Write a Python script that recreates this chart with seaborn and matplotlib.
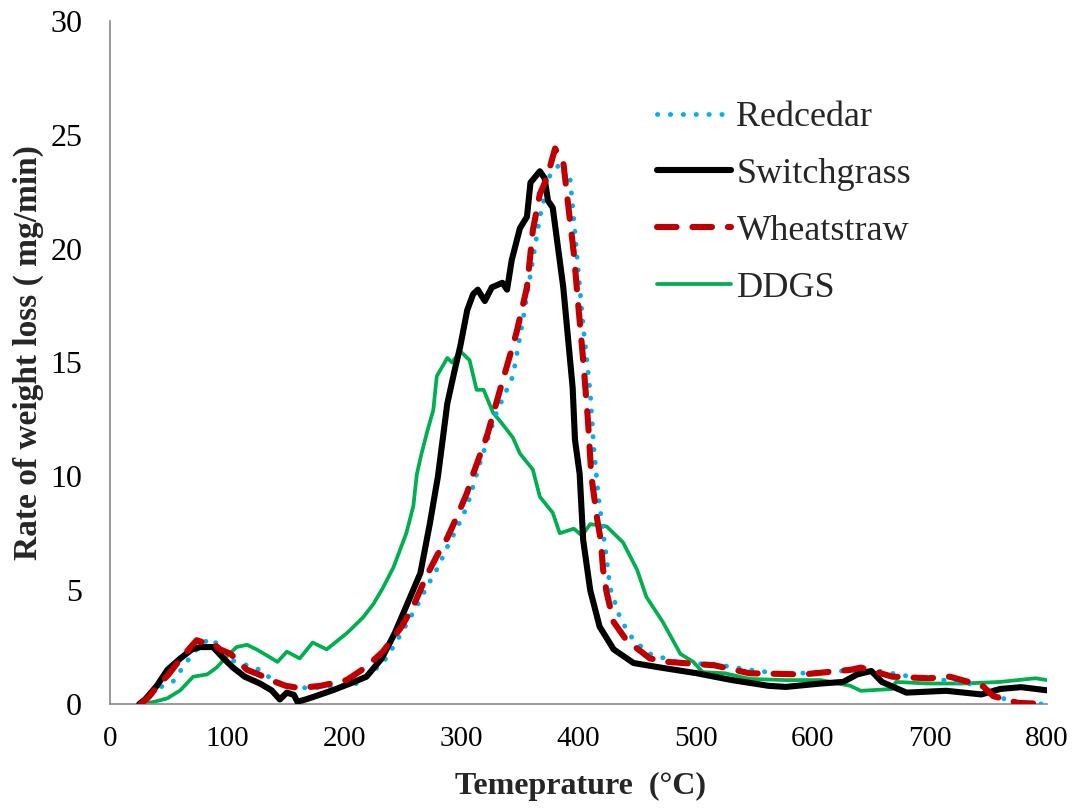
import matplotlib
matplotlib.use("Agg")
import matplotlib.pyplot as plt
import seaborn as sns
import numpy as np

# ---------------- data ----------------
redcedar_t = [28, 35, 45, 54, 62, 72, 85, 95, 105, 117, 128, 139, 151, 168, 188, 211, 233, 243, 252, 262,
              270, 280, 288, 297, 305, 316, 323, 330, 344, 353, 361, 367, 376, 386, 393, 396, 399, 404, 410,
              413, 417, 423, 427, 436, 447, 461, 487, 516, 546, 577, 616, 656, 684, 726, 754, 766, 775, 800]
redcedar_y = [0.0, 0.4, 0.8, 1.0, 1.6, 2.3, 2.9, 2.5, 1.9, 1.7, 1.5, 1.05, 0.8, 0.7, 0.75, 0.9, 1.8, 2.6, 3.4, 4.3,
              5.1, 6.0, 6.9, 7.8, 8.7, 10.6, 11.7, 12.8, 14.4, 17.0, 19.5, 21.4, 23.3, 23.8, 23.0, 21.3, 19.5, 16.6, 13.7,
              11.3, 9.1, 6.8, 5.1, 3.7, 2.8, 2.2, 1.8, 1.75, 1.5, 1.3, 1.45, 1.45, 1.2, 0.97, 0.66, 0.1, 0.0, 0.0]

switchgrass_t = [25, 30, 40, 49, 60, 70, 77, 88, 97, 105, 115, 128, 138, 145, 151, 157, 160, 167, 173, 190,
                 205, 219, 232, 243, 253, 265, 273, 280, 284, 288, 294, 299, 305, 310, 314, 320, 326, 335, 339,
                 343, 350, 356, 359, 367, 371, 374, 378, 387, 395, 397, 401, 404, 410, 418, 430, 447, 470, 501,
                 531, 562, 577, 607, 626, 638, 650, 659, 680, 714, 744, 760, 778, 800]
switchgrass_y = [0.0, 0.2, 0.8, 1.5, 2.0, 2.4, 2.5, 2.5, 2.0, 1.6, 1.2, 0.9, 0.6, 0.2, 0.5, 0.4, 0.1, 0.2, 0.3, 0.6,
                 0.9, 1.2, 2.0, 3.1, 4.3, 5.75, 7.9, 10.0, 11.6, 13.2, 14.6, 15.7, 17.3, 18.0, 18.2, 17.7, 18.3, 18.5, 18.2,
                 19.5, 20.9, 21.4, 22.9, 23.4, 23.1, 22.1, 21.8, 18.3, 13.9, 11.6, 10.1, 7.2, 5.0, 3.4, 2.4, 1.8, 1.6, 1.35,
                 1.05, 0.8, 0.75, 0.9, 0.97, 1.3, 1.45, 0.97, 0.5, 0.58, 0.42, 0.66, 0.74, 0.6]

wheatstraw_t = [26, 33, 40, 50, 62, 74, 80, 87, 94, 103, 111, 117, 127, 137, 150, 162, 180, 202, 218, 233,
                249, 259, 270, 279, 288, 296, 305, 310, 322, 333, 342, 347, 356, 361, 367, 373, 380, 387, 391,
                396, 400, 404, 408, 411, 416, 419, 421, 424, 430, 441, 461, 476, 516, 546, 592, 632, 641, 668,
                699, 717, 745, 754, 775, 800]
wheatstraw_y = [0.0, 0.3, 0.75, 1.3, 2.1, 2.8, 2.7, 2.7, 2.4, 2.2, 1.8, 1.5, 1.3, 1.05, 0.8, 0.7, 0.8, 1.05, 1.6, 2.3,
                3.4, 4.3, 5.6, 6.5, 7.3, 8.2, 9.3, 10.1, 11.8, 13.8, 15.4, 16.3, 18.3, 20.8, 22.4, 23.1, 24.4, 23.8, 22.0,
                19.8, 17.4, 15.1, 12.5, 10.0, 8.1, 7.2, 5.9, 4.9, 3.6, 2.8, 2.0, 1.85, 1.7, 1.35, 1.3, 1.5, 1.6, 1.2,
                1.13, 1.2, 0.8, 0.35, 0.05, 0.0]

ddgs_t = [28, 38, 49, 60, 71, 83, 91, 100, 108, 117, 125, 135, 143, 151, 162, 173, 185, 202, 216, 225,
          233, 242, 253, 259, 262, 266, 271, 276, 279, 288, 292, 299, 307, 313, 319, 327, 335, 344, 350,
          361, 367, 378, 384, 396, 403, 410, 424, 438, 450, 458, 472, 487, 498, 506, 525, 546, 577, 607,
          632, 641, 668, 671, 699, 729, 760, 790, 800]
ddgs_y = [0.0, 0.1, 0.25, 0.6, 1.2, 1.3, 1.6, 2.1, 2.5, 2.6, 2.4, 2.1, 1.85, 2.3, 2.0, 2.7, 2.4, 3.1, 3.8, 4.4,
          5.1, 6.0, 7.5, 8.7, 10.1, 11.0, 12.0, 12.9, 14.4, 15.2, 15.0, 15.5, 15.1, 13.8, 13.8, 12.8, 12.3, 11.7, 11.0,
          10.3, 9.1, 8.4, 7.5, 7.7, 7.4, 7.9, 7.8, 7.1, 5.9, 4.7, 3.6, 2.2, 1.85, 1.4, 1.35, 1.1, 1.05, 1.05,
          0.8, 0.58, 0.66, 0.97, 0.9, 0.9, 0.97, 1.13, 1.05]

x_ticks = [0, 100, 200, 300, 400, 500, 600, 700, 800]
y_ticks = [0, 5, 10, 15, 20, 25, 30]

# ---------------- style ----------------
sns.set_theme(style="white")
plt.rcParams['font.family'] = ['Liberation Serif', 'DejaVu Serif']

fig = plt.figure(figsize=(10.82, 8.09), dpi=100)
ax = fig.add_axes([110 / 1082, 1 - 704 / 809, (1047 - 110) / 1082, (704 - 21) / 809])

series = [
    ("Redcedar", redcedar_t, redcedar_y, "#00B0F0", 3.5, "dot", 3),
    ("Switchgrass", switchgrass_t, switchgrass_y, "#000000", 4.4, "solid", 4),
    ("Wheatstraw", wheatstraw_t, wheatstraw_y, "#C00000", 4.4, "dash", 5),
    ("DDGS", ddgs_t, ddgs_y, "#00B050", 2.7, "solid", 2),
]

for name, t, y, color, lw, style, z in series:
    sns.lineplot(x=t, y=y, ax=ax, color=color, linewidth=lw, label=name,
                 sort=False, estimator=None, zorder=z)
    line = ax.lines[-1]
    if style == "dot":
        line.set_dashes([0.05, 2.6])
        line.set_dash_capstyle("round")
    elif style == "dash":
        line.set_dashes([3.2, 2.6])
        line.set_dash_capstyle("round")
    else:
        line.set_solid_capstyle("round")
    line.set_solid_joinstyle("round")

ax.set_xlim(0, 800)
ax.set_ylim(0, 30)
ax.set_xticks(x_ticks)
ax.set_yticks(y_ticks)

for s in ["top", "right"]:
    ax.spines[s].set_visible(False)
for s in ["left", "bottom"]:
    ax.spines[s].set_color("#898989")
    ax.spines[s].set_linewidth(1.2)

ax.tick_params(axis="both", which="major", direction="out", length=8, width=1.2,
               color="#898989", labelcolor="black")
ax.tick_params(axis="x", labelsize=21, pad=8)
ax.tick_params(axis="y", labelsize=23, pad=12)

ax.set_xlabel("Temeprature  (°C)", fontsize=23, fontweight="bold")
ax.set_ylabel("Rate of weight loss ( mg/min)", fontsize=24, fontweight="bold")
ax.xaxis.set_label_coords(0.5 + 2 / 937, (704 - 772) / 683)
ax.yaxis.set_label_coords((44 - 110) / 937, 0.5 + 10 / 683)

leg = ax.legend(loc="upper left", bbox_to_anchor=(657 / 1082, 1 - 101 / 809),
                bbox_transform=fig.transFigure, frameon=False, fontsize=26,
                handlelength=2.05, handletextpad=0.15, labelspacing=0.65,
                borderpad=0, borderaxespad=0)
for h in leg.get_lines():
    h.set_dash_capstyle("round")
    h.set_solid_capstyle("round")

fig.savefig("out.png", dpi=100)
